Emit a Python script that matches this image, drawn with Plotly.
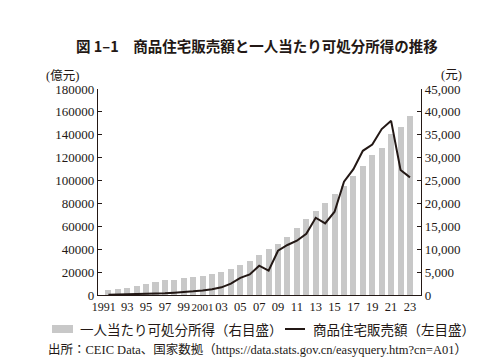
import plotly.graph_objects as go

years = list(range(1991, 2024))

# 一人当たり可処分所得（元, right axis）
income = [1090, 1310, 1530, 1970, 2400, 2840, 3280, 3280, 3720, 3930,
          4150, 4590, 4960, 5680, 6560, 7430, 8740, 10050, 11140, 12750,
          14640, 16600, 18350, 20170, 22140, 23890, 26070, 28260, 30600,
          32190, 35180, 36780, 39180]

# 商品住宅販売額（億元, left axis）
sales = [250, 400, 700, 850, 1100, 1250, 1450, 2000, 2400, 3200,
         4000, 5000, 6700, 10000, 15000, 18000, 25600, 21200, 38700, 43700,
         47400, 53500, 67500, 62600, 72800, 99000, 110000, 126000, 131500,
         145000, 152200, 109200, 102800]

tick_years = list(range(1991, 2024, 2))
tick_text = ['<span style="font-size:12px">1991</span>' + "\u00a0" * 3, "93", "95", "97", "99",
             '<span style="font-size:11px">2001</span>', "03", "05", "07",
             "09", "11", "13", "15", "17", "19", "21", "23"]

BLACK = "#231815"
GRAY = "#c8c8c8"
SERIF = "Liberation Serif, Noto Sans CJK JP"
CJK = "Noto Sans CJK JP"

# page offset of 8px (default body margin) is compensated in the margins
ML, MR, MT, MB = 90, 91, 81, 77
W = 504 - ML - MR
H = 364 - MT - MB

fig = go.Figure()
fig.add_trace(go.Bar(x=years, y=income, marker=dict(color=GRAY, line=dict(width=0)),
                     width=0.64, yaxis="y", showlegend=False,
                     name="一人当たり可処分所得（右目盛）"))
fig.add_trace(go.Scatter(x=years, y=sales, mode="lines",
                         line=dict(color=BLACK, width=2), yaxis="y2",
                         showlegend=False, name="商品住宅販売額（左目盛）"))

fig.update_layout(
    width=504, height=364,
    margin=dict(l=ML, r=MR, t=MT, b=MB),
    paper_bgcolor="white", plot_bgcolor="white",
    font=dict(family=SERIF, size=13, color=BLACK),
    bargap=0,
    xaxis=dict(range=[1989.9, 2024.17], tickvals=tick_years, ticktext=tick_text,
               tickangle=0, showgrid=False, zeroline=False, showline=True,
               linecolor=BLACK, linewidth=1.2, ticks="",
               tickfont=dict(family=SERIF, size=12.5, color=BLACK)),
    yaxis=dict(side="right", range=[0, 45000], dtick=5000, tickformat=",",
               showgrid=False, zeroline=False, showline=True, linecolor=BLACK,
               linewidth=1.2, ticks="inside", ticklen=4, tickcolor=BLACK,
               tickfont=dict(family=SERIF, size=13, color=BLACK)),
    yaxis2=dict(side="left", overlaying="y", range=[0, 180000], dtick=20000,
                tickformat="d", showgrid=False, zeroline=False, showline=True,
                linecolor=BLACK, linewidth=1.2, ticks="inside", ticklen=4,
                tickcolor=BLACK,
                tickfont=dict(family=SERIF, size=13, color=BLACK)),
)

def px(x):
    return (x - 8 - ML) / W
def py(y):
    return (364 - MB + 8 - y) / H

annotations = [
    dict(text="<b>図 1–1\u3000商品住宅販売額と一人当たり可処分所得の推移</b>",
         x=px(257), y=py(45), font=dict(family=CJK, size=14.5, color=BLACK)),
    dict(text="(億元)", x=px(62), y=py(76), font=dict(family=SERIF, size=12.5, color=BLACK)),
    dict(text="(元)", x=px(451), y=py(75), font=dict(family=SERIF, size=12.5, color=BLACK)),
    dict(text="一人当たり可処分所得（右目盛）", x=px(78), y=py(329), xanchor="left",
         font=dict(family=CJK, size=13.5, color=BLACK)),
    dict(text="商品住宅販売額（左目盛）", x=px(311), y=py(329), xanchor="left",
         font=dict(family=CJK, size=13.5, color=BLACK)),
    dict(text="出所：CEIC Data、国家数拠（https://data.stats.gov.cn/easyquery.htm?cn=A01）",
         x=px(257), y=py(349), font=dict(family=SERIF, size=12.5, color=BLACK)),
]
for a in annotations:
    a.setdefault("xanchor", "center")
    a.update(xref="paper", yref="paper", yanchor="middle", showarrow=False)
fig.update_layout(annotations=annotations)

fig.update_layout(shapes=[
    dict(type="rect", xref="paper", yref="paper", x0=px(52), x1=px(73),
         y0=py(333), y1=py(325), fillcolor=GRAY, line=dict(width=0)),
    dict(type="line", xref="paper", yref="paper", x0=px(285), x1=px(305),
         y0=py(329), y1=py(329), line=dict(color=BLACK, width=2)),
])

fig.write_html("out.html")
